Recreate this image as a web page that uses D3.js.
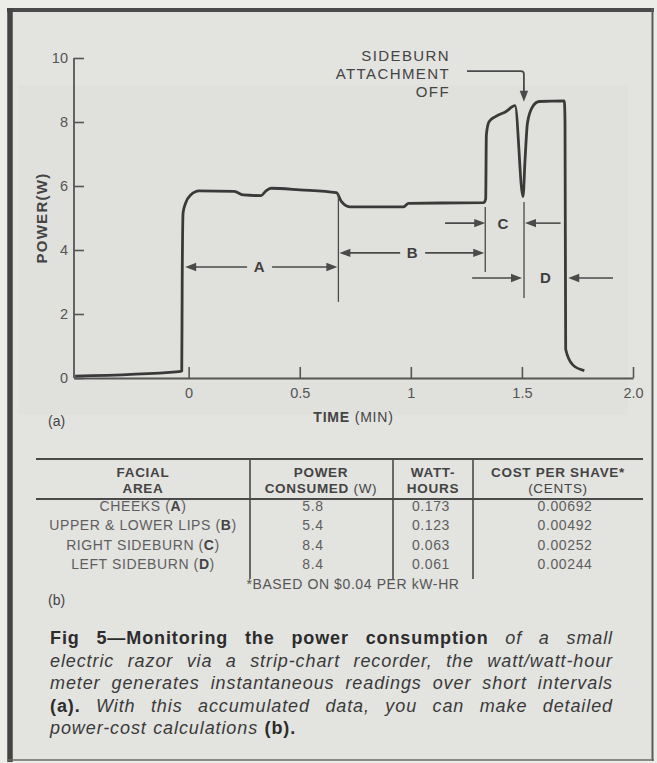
<!DOCTYPE html>
<html><head><meta charset="utf-8">
<script src="https://cdn.jsdelivr.net/npm/d3@7"></script>
<style>html,body{margin:0;padding:0;background:#ebebe9;} svg{display:block;}</style>
</head><body>
<script>
// ---------- DATA ----------
const timeMin = [-0.511,-0.044,-0.031,-0.029,-0.025,-0.014,0.009,0.047,0.205,0.247,0.326,0.348,0.371,0.50,0.665,0.688,0.725,0.967,0.99,1.329,1.337,1.340,1.352,1.381,1.427,1.469,1.505,1.514,1.525,1.548,1.578,1.691,1.694,1.697,1.729,1.781];
const powerW  = [0.06,0.20,0.22,3.0,5.16,5.46,5.72,5.85,5.83,5.72,5.70,5.85,5.93,5.88,5.79,5.51,5.35,5.35,5.46,5.48,5.6,7.6,8.01,8.17,8.32,8.51,5.67,6.81,7.97,8.48,8.64,8.66,8.0,0.9,0.41,0.23];
const yTicks = [0,2,4,6,8,10];
const xTicks = [0,0.5,1,1.5,2.0];
const xTickLabels = ["0","0.5","1","1.5","2.0"];
// segment boundaries (min): A start, A/B, B/C, C/D, D end
const segBounds = [-0.02, 0.674, 1.335, 1.505, 1.695];
const segLetters = ["A","B","C","D"];
// table
const facialArea = ["CHEEKS","UPPER & LOWER LIPS","RIGHT SIDEBURN","LEFT SIDEBURN"];
const areaKey = ["A","B","C","D"];
const powerConsumed = ["5.8","5.4","8.4","8.4"];
const wattHours = ["0.173","0.123","0.063","0.061"];
const costCents = ["0.00692","0.00492","0.00252","0.00244"];
const footnote = "*BASED ON $0.04 PER kW-HR";
const captionLines = [
  [["Fig 5—Monitoring the power consumption","b"],["of a small","i"]],
  [["electric razor via a strip-chart recorder, the watt/watt-hour","i"]],
  [["meter generates instantaneous readings over short intervals","i"]],
  [["(a).","b"],["With this accumulated data, you can make detailed","i"]],
  [["power-cost calculations","i"],["(b).","b"]]
];

// ---------- SETUP ----------
const W = 657, H = 763;
const FONT = "'Liberation Sans', Arial, Helvetica, sans-serif";
const INK = "#3a3a3a", GREY = "#555";
const svg = d3.select("body").append("svg").attr("width", W).attr("height", H)
  .style("font-family", FONT);

// page / frame
svg.append("rect").attr("x",0).attr("y",0).attr("width",W).attr("height",H).attr("fill","#ecece9");
svg.append("rect").attr("x",10).attr("y",10).attr("width",642).attr("height",750).attr("fill","#e3e3e0");
svg.append("rect").attr("x",18).attr("y",85).attr("width",610).attr("height",330).attr("fill","#dededb").attr("opacity",0.6);
svg.append("line").attr("x1",7).attr("x2",654).attr("y1",10).attr("y2",10).attr("stroke","#4a4a4a").attr("stroke-width",4);
svg.append("line").attr("x1",10).attr("x2",10).attr("y1",8).attr("y2",762).attr("stroke","#444").attr("stroke-width",5.5);
svg.append("line").attr("x1",652.5).attr("x2",652.5).attr("y1",8).attr("y2",761).attr("stroke","#5a5a5a").attr("stroke-width",2);
svg.append("line").attr("x1",8).attr("x2",654).attr("y1",760).attr("y2",760).attr("stroke","#6a6a6a").attr("stroke-width",1.5);

// ---------- CHART ----------
const x = d3.scaleLinear().domain([-0.516, 2.0]).range([74, 633]);
const y = d3.scaleLinear().domain([0, 10]).range([378, 58]);

const yAxis = d3.axisLeft(y).tickValues(yTicks).tickSizeInner(-10).tickSizeOuter(0).tickPadding(6).tickFormat(d3.format("d"));
const gy = svg.append("g").attr("transform", `translate(${x.range()[0]},0)`).call(yAxis);
const xAxis = d3.axisBottom(x).tickValues(xTicks).tickSizeInner(-11).tickSizeOuter(0).tickPadding(10)
  .tickFormat((d,i) => xTickLabels[i]);
const gx = svg.append("g").attr("transform", `translate(0,${y(0)})`).call(xAxis);
[gx, gy].forEach(g => {
  g.selectAll("path.domain").attr("stroke", GREY).attr("stroke-width", 1.8);
  g.selectAll(".tick line").attr("stroke", GREY).attr("stroke-width", 1.6);
  g.selectAll(".tick text").attr("fill", "#555").style("font-family", FONT).style("font-size","14.5px");
});
gy.select("path.domain").attr("d", `M0,${y(10)}V${y(0)}`);

// curve
const pts = timeMin.map((t,i) => [t, powerW[i]]);
svg.append("path").datum(pts)
  .attr("d", d3.line().x(d => x(d[0])).y(d => y(d[1])).curve(d3.curveMonotoneX))
  .attr("fill","none").attr("stroke", INK).attr("stroke-width", 2.8).attr("stroke-linejoin","round");

// axis titles
const yt = svg.append("text").attr("transform", `translate(47,218) rotate(-90)`)
  .attr("text-anchor","middle").attr("fill","#444").style("font-size","15px").style("font-weight","bold").style("letter-spacing","1.3px");
yt.append("tspan").text("POWER");
yt.append("tspan").text("(W)");
const xt = svg.append("text").attr("x", (x.range()[0]+x.range()[1])/2).attr("y", 422)
  .attr("text-anchor","middle").attr("fill","#444").style("font-size","14px").style("letter-spacing","0.8px");
xt.append("tspan").text("TIME").style("font-weight","bold");
xt.append("tspan").text(" (MIN)");
svg.append("text").attr("x", 48).attr("y", 426).text("(a)").attr("fill","#444").style("font-size","14px");

// ---------- ANNOTATIONS ----------
const ann = svg.append("g").attr("stroke", "#4a4a4a").attr("fill","none");
function head(xp, yp, dir){
  const L = 11, hw = 4.2;
  let d;
  if (dir === "left")  d = `M${xp},${yp}L${xp+L},${yp-hw}L${xp+L},${yp+hw}Z`;
  if (dir === "right") d = `M${xp},${yp}L${xp-L},${yp-hw}L${xp-L},${yp+hw}Z`;
  if (dir === "down")  d = `M${xp},${yp}L${xp-hw},${yp-L}L${xp+hw},${yp-L}Z`;
  svg.append("path").attr("d", d).attr("fill", "#4a4a4a");
}
function hline(x1, x2, yp){ ann.append("line").attr("x1",x1).attr("x2",x2).attr("y1",yp).attr("y2",yp).attr("stroke-width",1.6); }
function vline(xp, p1, p2){ ann.append("line").attr("x1",xp).attr("x2",xp).attr("y1",y(p1)).attr("y2",y(p2)).attr("stroke-width",1.3); }
function letter(t, xp, yp){
  svg.append("text").attr("x", xp).attr("y", yp).attr("dy","0.36em").attr("text-anchor","middle")
    .attr("fill","#3f3f3f").style("font-size","15px").style("font-weight","bold").text(t);
}
// boundary ticks
vline(x(segBounds[1]), 5.78, 2.38);
vline(x(segBounds[2]), 5.34, 3.31);
vline(x(segBounds[3]) + 1, 5.5, 2.5);

// A: double arrow between boundaries
{
  const yy = y(3.47), x0 = x(segBounds[0]) + 1, x1 = x(segBounds[1]) - 1, lx = x(0.317);
  hline(x0 + 8, lx - 12, yy); hline(lx + 13, x1 - 8, yy);
  head(x0, yy, "left"); head(x1, yy, "right"); letter(segLetters[0], lx, yy);
}
// B
{
  const yy = y(3.91), x0 = x(segBounds[1]) + 1, x1 = x(segBounds[2]) - 1, lx = x(1.006);
  hline(x0 + 8, lx - 12, yy); hline(lx + 13, x1 - 8, yy);
  head(x0, yy, "left"); head(x1, yy, "right"); letter(segLetters[1], lx, yy);
}
// C: inward arrows
{
  const yy = y(4.84), xb = x(segBounds[2]), xe = x(segBounds[3]) + 2;
  hline(x(1.154), xb - 8, yy); head(xb, yy, "right");
  hline(xe + 8, x(1.674), yy); head(xe, yy, "left");
  letter(segLetters[2], x(1.415), yy);
}
// D: inward arrows
{
  const yy = y(3.125), xb = x(segBounds[3]) - 1, xe = x(segBounds[4]) + 3;
  hline(x(1.276), xb - 8, yy); head(xb, yy, "right");
  hline(xe + 8, x(1.91), yy); head(xe, yy, "left");
  letter(segLetters[3], x(1.606), yy);
}
// sideburn attachment off callout
{
  const xs = x(1.253), xc = x(1.509), yl = y(9.59), ytip = y(8.63);
  ann.append("path").attr("d", `M${xs},${yl}H${xc-3}Q${xc},${yl} ${xc},${yl+3}V${ytip-8}`).attr("stroke-width",1.8);
  head(xc, ytip, "down");
  const lines = ["SIDEBURN","ATTACHMENT","OFF"];
  lines.forEach((s,i) => svg.append("text").attr("x", 450).attr("y", 61 + i*18).attr("text-anchor","end")
    .attr("fill","#444").style("font-size","15px").style("letter-spacing","1.4px").text(s));
}

// ---------- TABLE ----------
const colEdges = [36, 250, 393, 473, 643];
const headCX = [143, 321, 433, 558];
const valCX = [143, 313, 431, 565];
const rowY = d3.scalePoint().domain(facialArea).range([511, 569]);
const tbl = svg.append("g");
tbl.append("line").attr("x1",colEdges[0]).attr("x2",colEdges[4]).attr("y1",459).attr("y2",459).attr("stroke","#4a4a4a").attr("stroke-width",2);
tbl.append("line").attr("x1",colEdges[0]).attr("x2",colEdges[4]).attr("y1",499).attr("y2",499).attr("stroke","#4a4a4a").attr("stroke-width",2);
colEdges.slice(1,4).forEach(cx => tbl.append("line").attr("x1",cx).attr("x2",cx).attr("y1",459).attr("y2",579).attr("stroke","#4a4a4a").attr("stroke-width",1.6));

const headers = [
  [[["FACIAL","b"]],[["AREA","b"]]],
  [[["POWER","b"]],[["CONSUMED","b"],[" (W)","n"]]],
  [[["WATT-","b"]],[["HOURS","b"]]],
  [[["COST PER SHAVE*","b"]],[["(CENTS)","n"]]]
];
headers.forEach((h,ci) => h.forEach((line,li) => {
  const t = tbl.append("text").attr("x", headCX[ci]).attr("y", 477 + li*16).attr("text-anchor","middle")
    .attr("fill","#444").style("font-size","13.5px").style("letter-spacing","0.7px");
  line.forEach(([s,st]) => t.append("tspan").text(s).style("font-weight", st==="b" ? "bold" : "normal"));
}));
function cellText(xc, yc, parts){
  const t = tbl.append("text").attr("x", xc).attr("y", yc).attr("text-anchor","middle")
    .attr("fill","#5e5e5e").style("font-size","14px").style("letter-spacing","0.6px");
  parts.forEach(([s,st]) => t.append("tspan").text(s).style("font-weight", st==="b" ? "bold" : "normal").attr("fill", st==="b" ? "#444" : null));
}
facialArea.forEach((a,i) => {
  const yy = rowY(a);
  cellText(valCX[0], yy, [[a + " (","n"],[areaKey[i],"b"],[")","n"]]);
  cellText(valCX[1], yy, [[powerConsumed[i],"n"]]);
  cellText(valCX[2], yy, [[wattHours[i],"n"]]);
  cellText(valCX[3], yy, [[costCents[i],"n"]]);
});
tbl.append("text").attr("x", 353).attr("y", 589).attr("text-anchor","middle").attr("fill","#555")
  .style("font-size","14px").style("letter-spacing","0.6px").text(footnote);
tbl.append("text").attr("x", 48).attr("y", 605).attr("fill","#444").style("font-size","14px").text("(b)");

// ---------- CAPTION (justified) ----------
const capX0 = 50, capX1 = 613, capY0 = 644, capDY = 22.6;
const cap = svg.append("g").attr("fill","#333").style("font-size","18px").style("letter-spacing","0.9px");
captionLines.forEach((line, li) => {
  const words = [];
  line.forEach(([s,st]) => s.split(" ").forEach(w => words.push([w, st])));
  const els = words.map(([w,st]) => {
    const e = cap.append("text").attr("y", capY0 + li*capDY).text(w)
      .style("font-weight", st==="b" ? "bold" : "normal").style("font-style", st==="i" ? "italic" : "normal")
      .attr("fill", st==="b" ? "#2c2c2c" : "#3a3a3a");
    return e;
  });
  const widths = els.map(e => e.node().getComputedTextLength());
  const total = d3.sum(widths);
  const last = li === captionLines.length - 1;
  const gap = last ? 6.5 : (capX1 - capX0 - total) / (els.length - 1);
  let cx = capX0;
  els.forEach((e,i) => { e.attr("x", cx); cx += widths[i] + gap; });
});
</script>
</body></html>
